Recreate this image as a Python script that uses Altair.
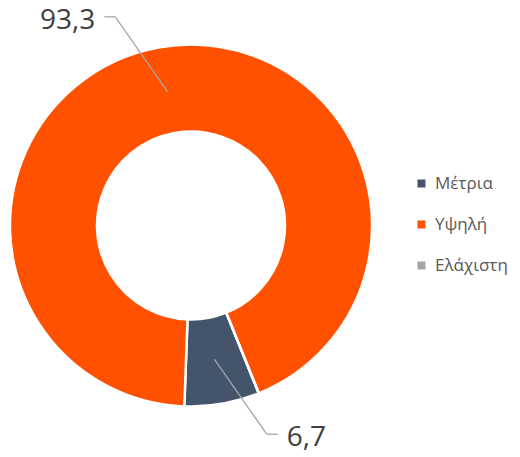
import math
import altair as alt
import pandas as pd

categories = ["Μέτρια", "Υψηλή", "Ελάχιστη"]
values = [6.7, 93.3, 0.0]
colors = ["#44546A", "#FF5100", "#A5A5A5"]

df = pd.DataFrame({"category": categories, "value": values, "idx": list(range(len(categories)))})

W, H = 504, 449
CX, CY = 183, 217.5
START = math.radians(158)
R_OUT, R_IN = 181, 94
R_LINE, R_BEND = 136, 222
ROT = math.radians(10)

base = alt.Chart(df)

arc = base.mark_arc(outerRadius=R_OUT, innerRadius=R_IN, stroke="white", strokeWidth=2.5).encode(
    x=alt.value(CX),
    y=alt.value(CY),
    theta=alt.Theta("value:Q", stack=True, scale=alt.Scale(range=[START, START + 2 * math.pi])),
    color=alt.Color(
        "category:N",
        scale=alt.Scale(domain=categories, range=colors),
        sort=categories,
        legend=alt.Legend(
            title=None, orient="none", legendX=405, legendY=167,
            symbolType="square", symbolSize=64, symbolStrokeWidth=0,
            labelFont="Open Sans", labelFontSize=17, labelColor="#595959",
            rowPadding=23, labelOffset=5, padding=0,
        ),
    ),
    order=alt.Order("idx:Q"),
)

lab = base.transform_joinaggregate(total="sum(value)").transform_window(
    cum="sum(value)", sort=[alt.SortField("idx")], frame=[None, 0]
).transform_calculate(
    mid=f"{START} + 2*PI*(datum.cum - datum.value/2)/datum.total",
).transform_calculate(
    x1=f"{CX} + {R_LINE}*sin(datum.mid)",
    y1=f"{CY} - {R_LINE}*cos(datum.mid)",
    b=f"datum.mid - {ROT}",
).transform_calculate(
    xb=f"{CX} + {R_BEND}*sin(datum.b)",
    yb=f"{CY} - {R_BEND}*cos(datum.b)",
    side="sin(datum.b) < 0 ? -1 : 1",
).transform_calculate(
    xe="datum.xb + 11*datum.side",
    xt="datum.xb + 20*datum.side",
    ty="datum.yb + 4",
    txt="replace(format(datum.value, '.1f'), '.', ',')",
).transform_filter("datum.value > 0")

seg1 = lab.mark_rule(color="#A6A6A6", strokeWidth=1.3).encode(
    x=alt.X("x1:Q", scale=None), y=alt.Y("y1:Q", scale=None),
    x2="xb:Q", y2="yb:Q",
)
seg2 = lab.mark_rule(color="#A6A6A6", strokeWidth=1.3).encode(
    x=alt.X("xb:Q", scale=None), y=alt.Y("yb:Q", scale=None),
    x2="xe:Q", y2="yb:Q",
)
txt_left = lab.transform_filter("datum.side < 0").mark_text(
    align="right", baseline="middle", font="Open Sans", fontSize=28, color="#404040"
).encode(x=alt.X("xt:Q", scale=None), y=alt.Y("ty:Q", scale=None), text="txt:N")
txt_right = lab.transform_filter("datum.side > 0").mark_text(
    align="left", baseline="middle", font="Open Sans", fontSize=28, color="#404040"
).encode(x=alt.X("xt:Q", scale=None), y=alt.Y("ty:Q", scale=None), text="txt:N")

chart = alt.layer(arc, seg1, seg2, txt_left, txt_right).properties(
    width=W, height=H, padding=0, autosize=alt.AutoSizeParams(type="none")
).configure_view(strokeWidth=0)

chart.save("out.html", embed_options={"renderer": "svg", "actions": False})
